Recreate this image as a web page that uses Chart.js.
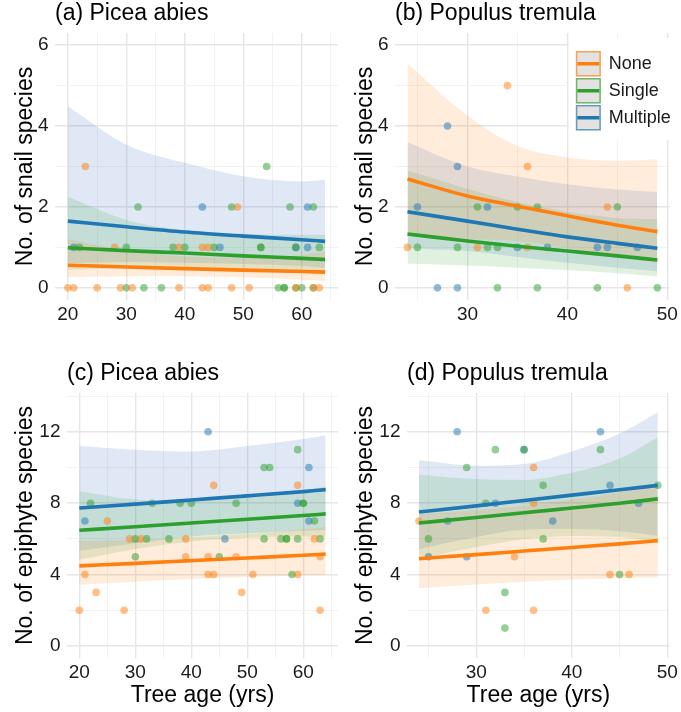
<!DOCTYPE html>
<html><head><meta charset="utf-8">
<script src="https://cdn.jsdelivr.net/npm/chart.js@4.4.1/dist/chart.umd.min.js"></script>
<style>
html,body{margin:0;padding:0;background:#fff;width:681px;height:712px;overflow:hidden;}
canvas{position:absolute;}
</style></head><body>
<canvas id="ca" width="342" height="330" style="left:0;top:0"></canvas>
<canvas id="cb" width="339" height="330" style="left:342px;top:0"></canvas>
<canvas id="cc" width="342" height="352" style="left:0;top:360px"></canvas>
<canvas id="cd" width="339" height="352" style="left:342px;top:360px"></canvas>
<script>
// ---------- tick / grid values ----------
const xMajorPicea = [20,30,40,50,60];
const xMinorPicea = [25,35,45,55,65];
const xMajorPopulus = [30,40,50];
const xMinorPopulus = [25,35,45];
const yMajorSnail = [0,2,4,6];
const yMinorSnail = [1,3,5];
const yMajorEpi = [0,4,8,12];
const yMinorEpi = [2,6,10,14];
const GROUPS = ['None','Single','Multiple'];

// ---------- panel (a) Picea abies, snails ----------
const aNoneAge = [20,21,25,29,31,39,43,44,48,51,59,62,63,28,39,43,44,49,23];
const aNoneCount = [0,0,0,0,0,0,0,0,0,0,0,0,0,1,1,1,1,2,3];
const aSingleAge = [30,33,36,56,57,57,59,60,62,22,30,38,40,45,53,53,59,63,32,48,58,62,54];
const aSingleCount = [0,0,0,0,0,0,0,0,0,1,1,1,1,1,1,1,1,1,2,2,2,2,3];
const aMultipleAge = [21,46,59,61,43,61];
const aMultipleCount = [1,1,1,1,2,2];
const aFitAge = [20,30,40,50,60,64];
const aNoneMean = [0.56,0.516,0.475,0.438,0.403,0.39];
const aNoneLo = [0.26,0.29,0.29,0.26,0.20,0.17];
const aNoneHi = [1.21,0.92,0.78,0.74,0.81,0.89];
const aSingleMean = [0.99,0.92,0.86,0.79,0.73,0.70];
const aSingleLo = [0.44,0.50,0.52,0.47,0.41,0.37];
const aSingleHi = [2.25,1.68,1.43,1.34,1.31,1.31];
const aMultipleMean = [1.65,1.51,1.38,1.28,1.19,1.15];
const aMultipleLo = [0.61,0.64,0.62,0.59,0.54,0.50];
const aMultipleHi = [4.49,3.54,3.09,2.76,2.63,2.67];

// ---------- panel (b) Populus tremula, snails ----------
const bNoneAge = [46,24,31,36,44,36,34];
const bNoneCount = [0,1,1,1,2,3,5];
const bSingleAge = [33,37,43,49,25,29,32,33,31,35,37,45];
const bSingleCount = [0,0,0,0,1,1,1,1,2,2,2,2];
const bMultipleAge = [27,29,35,38,43,44,47,25,32,29,28];
const bMultipleCount = [0,0,1,1,1,1,1,2,2,3,4];
const bFitAge = [24,30,35,40,45,49];
const bNoneMean = [2.69,2.27,2.02,1.78,1.55,1.39];
const bNoneLo = [1.31,1.21,1.16,0.98,0.77,0.61];
const bNoneHi = [5.54,4.26,3.51,3.22,3.14,3.18];
const bSingleMean = [1.33,1.16,1.03,0.91,0.79,0.69];
const bSingleLo = [0.60,0.55,0.50,0.44,0.36,0.28];
const bSingleHi = [2.90,2.45,2.12,1.88,1.73,1.70];
const bMultipleMean = [1.88,1.65,1.45,1.26,1.10,0.98];
const bMultipleLo = [0.98,0.91,0.76,0.62,0.50,0.41];
const bMultipleHi = [3.60,3.00,2.75,2.56,2.43,2.37];

// ---------- panel (c) Picea abies, epiphytes ----------
const cNoneAge = [44,59,25,29,31,39,62,39,43,48,63,21,43,44,51,59,23,49,20,28,63];
const cNoneCount = [9,9,7,6,6,6,6,5,5,5,5,4,4,4,4,4,3,3,2,2,2];
const cSingleAge = [59,53,54,22,33,38,40,48,60,60,62,30,32,36,53,56,57,57,59,63,30,45,58];
const cSingleCount = [11,10,10,8,8,8,8,8,8,8,7,6,6,6,6,6,6,6,6,6,5,5,4];
const cMultipleAge = [43,61,59,21,61,46];
const cMultipleCount = [12,10,8,7,7,6];
const cFitAge = [20,30,40,50,60,64];
const cNoneMean = [4.49,4.63,4.78,4.93,5.08,5.15];
const cNoneLo = [3.43,3.60,3.75,3.87,3.95,3.97];
const cNoneHi = [5.88,5.95,6.09,6.28,6.53,6.68];
const cSingleMean = [6.48,6.68,6.89,7.10,7.31,7.40];
const cSingleLo = [4.84,5.44,5.86,6.07,6.14,6.12];
const cSingleHi = [8.67,8.20,8.10,8.30,8.70,8.95];
const cMultipleMean = [7.73,7.95,8.18,8.41,8.65,8.76];
const cMultipleLo = [5.33,5.75,6.14,6.32,6.45,6.50];
const cMultipleHi = [11.2,11.0,10.9,11.2,11.6,11.8];

// ---------- panel (d) Populus tremula, epiphytes ----------
const dNoneAge = [36,36,24,34,44,46,31,36];
const dNoneCount = [10,8,7,5,4,4,2,2];
const dSingleAge = [32,35,43,29,37,49,31,25,37,45,33,33];
const dSingleCount = [11,11,11,10,9,9,8,6,6,4,3,1];
const dMultipleAge = [28,43,35,44,32,47,27,38,25,29];
const dMultipleCount = [12,12,11,9,8,8,7,7,5,5];
const dFitAge = [24,30,35,40,45,49];
const dNoneMean = [4.89,5.12,5.32,5.52,5.72,5.90];
const dNoneLo = [3.24,3.45,3.60,3.72,3.80,3.84];
const dNoneHi = [7.38,7.60,7.86,8.19,8.61,9.06];
const dSingleMean = [6.89,7.20,7.46,7.73,8.00,8.24];
const dSingleLo = [4.89,5.54,5.98,6.16,6.10,5.80];
const dSingleHi = [9.6,9.35,9.3,9.7,10.5,11.7];
const dMultipleMean = [7.51,7.85,8.15,8.45,8.75,9.00];
const dMultipleLo = [5.42,6.10,6.51,6.55,6.43,6.18];
const dMultipleHi = [10.4,10.1,10.2,10.9,11.9,13.1];

// ---------- styling ----------
const FONT = '"Liberation Sans", Arial, Helvetica, sans-serif';
const COL = {None:[255,127,14], Single:[44,160,44], Multiple:[31,119,180]};
const RIB = {None:[255,127,14], Single:[44,160,44], Multiple:[50,100,190]};
const rgba = (c,a) => `rgba(${c[0]},${c[1]},${c[2]},${a})`;
const pts = (xs,ys) => xs.map((x,i)=>({x:x, y:ys[i]}));

const titlePlugin = {
  id:'ptitle',
  afterDraw(chart, args, opts){
    const {ctx, chartArea} = chart;
    ctx.save();
    ctx.font = '23px ' + FONT;
    ctx.fillStyle = '#000';
    ctx.textAlign = 'left';
    ctx.textBaseline = 'alphabetic';
    ctx.fillText(opts.text, chartArea.left, chartArea.top - 13.5);
    ctx.restore();
  }
};
const legendPlugin = {
  id:'plegend',
  afterDatasetsDraw(chart, args, opts){
    if (!opts.show) return;
    const ctx = chart.ctx;
    const kx = chart.chartArea.right - 94;
    ctx.save();
    ctx.fillStyle = '#fff';
    ctx.fillRect(kx - 7, 38, 120, 102);
    GROUPS.forEach((g,i)=>{
      const y = 51 + i*27;
      ctx.fillStyle = '#e4e2e0';
      ctx.fillRect(kx, y, 25, 25.5);
      ctx.strokeStyle = rgba(COL[g],0.65);
      ctx.lineWidth = 1.5;
      ctx.strokeRect(kx+0.75, y+0.75, 23.5, 24);
      ctx.strokeStyle = rgba(COL[g],1);
      ctx.lineWidth = 3.5;
      ctx.beginPath(); ctx.moveTo(kx+1.5, y+12.75); ctx.lineTo(kx+23.5, y+12.75); ctx.stroke();
      ctx.fillStyle = '#1a1a1a';
      ctx.font = '18px ' + FONT;
      ctx.textAlign = 'left';
      ctx.textBaseline = 'middle';
      ctx.fillText(g, kx + 33, y + 13);
    });
    ctx.restore();
  }
};

function buildDatasets(p){
  const ds = [];
  GROUPS.forEach(g=>{
    ds.push({label:g+' fit', data:pts(p.fitAge, p[g].mean), borderColor:rgba(COL[g],1), borderWidth:3.6,
      pointRadius:0, fill:false, cubicInterpolationMode:'monotone', order:0});
  });
  GROUPS.forEach(g=>{
    ds.push({label:g, data:pts(p[g].age, p[g].count), showLine:false, pointRadius:3.8, pointBorderWidth:0,
      pointBackgroundColor:rgba(COL[g],0.5), borderColor:'transparent', fill:false, order:1});
  });
  GROUPS.forEach(g=>{
    ds.push({label:g+' lo', data:pts(p.fitAge, p[g].lo), borderWidth:0, borderColor:'transparent', pointRadius:0,
      fill:false, cubicInterpolationMode:'monotone', order:2});
    ds.push({label:g+' hi', data:pts(p.fitAge, p[g].hi), borderWidth:0, borderColor:'transparent', pointRadius:0,
      fill:'-1', backgroundColor:rgba(RIB[g],0.15), cubicInterpolationMode:'monotone', order:2});
  });
  return ds;
}

function axis(min, max, major, minor, fitFn, title, titlePad, tickPad){
  const all = major.concat(minor);
  return {
    type:'linear', min:min, max:max,
    afterBuildTicks: s => { s.ticks = all.slice().sort((a,b)=>a-b).map(v=>({value:v})); },
    afterFit: fitFn,
    border:{display:false},
    grid:{drawTicks:false,
      color: c => major.includes(c.tick && c.tick.value) ? '#e6e6e6' : '#f2f2f2',
      lineWidth: c => major.includes(c.tick && c.tick.value) ? 1.4 : 1},
    ticks:{autoSkip:false, maxRotation:0, padding:tickPad, color:'#1a1a1a', font:{family:FONT, size:19},
      callback: v => major.includes(v) ? String(v) : ''},
    title: title ? {display:true, text:title, color:'#000', font:{family:FONT, size:23, lineHeight:1}, padding:titlePad} : {display:false}
  };
}

function makePanel(id, p){
  new Chart(document.getElementById(id), {
    type:'line',
    data:{datasets:buildDatasets(p)},
    plugins:[titlePlugin, legendPlugin],
    options:{
      responsive:false, animation:false, events:[], devicePixelRatio:1,
      layout:{padding:{top:33, right:p.padRight, left:0, bottom:0}},
      plugins:{legend:{display:false}, tooltip:{enabled:false}, ptitle:{text:p.title}, plegend:{show:!!p.legend}},
      scales:{
        x: axis(p.xmin, p.xmax, p.xMajor, p.xMinor, s=>{s.height=p.xHeight;}, p.xtitle, {top:0,bottom:5}, 3),
        y: axis(p.ymin, p.ymax, p.yMajor, p.yMinor, s=>{s.width=p.yWidth;}, p.ytitle, {top:p.yTitlePad,bottom:0}, 6.5)
      }
    }
  });
}

makePanel('ca', {title:'(a) Picea abies', ytitle:'No. of snail species', xtitle:null,
  xmin:17.8, xmax:66.2, ymin:-0.3, ymax:6.3, xMajor:xMajorPicea, xMinor:xMinorPicea, yMajor:yMajorSnail, yMinor:yMinorSnail,
  yWidth:55, yTitlePad:14.5, xHeight:30, padRight:3, fitAge:aFitAge,
  None:{age:aNoneAge, count:aNoneCount, mean:aNoneMean, lo:aNoneLo, hi:aNoneHi},
  Single:{age:aSingleAge, count:aSingleCount, mean:aSingleMean, lo:aSingleLo, hi:aSingleHi},
  Multiple:{age:aMultipleAge, count:aMultipleCount, mean:aMultipleMean, lo:aMultipleLo, hi:aMultipleHi}});

makePanel('cb', {title:'(b) Populus tremula', ytitle:'No. of snail species', xtitle:null, legend:true,
  xmin:22.75, xmax:50.25, ymin:-0.3, ymax:6.3, xMajor:xMajorPopulus, xMinor:xMinorPopulus, yMajor:yMajorSnail, yMinor:yMinorSnail,
  yWidth:53, yTitlePad:12.5, xHeight:30, padRight:10, fitAge:bFitAge,
  None:{age:bNoneAge, count:bNoneCount, mean:bNoneMean, lo:bNoneLo, hi:bNoneHi},
  Single:{age:bSingleAge, count:bSingleCount, mean:bSingleMean, lo:bSingleLo, hi:bSingleHi},
  Multiple:{age:bMultipleAge, count:bMultipleCount, mean:bMultipleMean, lo:bMultipleLo, hi:bMultipleHi}});

makePanel('cc', {title:'(c) Picea abies', ytitle:'No. of epiphyte species', xtitle:'Tree age (yrs)',
  xmin:17.8, xmax:66.2, ymin:-0.675, ymax:14.175, xMajor:xMajorPicea, xMinor:xMinorPicea, yMajor:yMajorEpi, yMinor:yMinorEpi,
  yWidth:67, yTitlePad:14.5, xHeight:54, padRight:1, fitAge:cFitAge,
  None:{age:cNoneAge, count:cNoneCount, mean:cNoneMean, lo:cNoneLo, hi:cNoneHi},
  Single:{age:cSingleAge, count:cSingleCount, mean:cSingleMean, lo:cSingleLo, hi:cSingleHi},
  Multiple:{age:cMultipleAge, count:cMultipleCount, mean:cMultipleMean, lo:cMultipleLo, hi:cMultipleHi}});

makePanel('cd', {title:'(d) Populus tremula', ytitle:'No. of epiphyte species', xtitle:'Tree age (yrs)',
  xmin:22.75, xmax:50.25, ymin:-0.675, ymax:14.175, xMajor:xMajorPopulus, xMinor:xMinorPopulus, yMajor:yMajorEpi, yMinor:yMinorEpi,
  yWidth:65, yTitlePad:12.5, xHeight:54, padRight:10, fitAge:dFitAge,
  None:{age:dNoneAge, count:dNoneCount, mean:dNoneMean, lo:dNoneLo, hi:dNoneHi},
  Single:{age:dSingleAge, count:dSingleCount, mean:dSingleMean, lo:dSingleLo, hi:dSingleHi},
  Multiple:{age:dMultipleAge, count:dMultipleCount, mean:dMultipleMean, lo:dMultipleLo, hi:dMultipleHi}});
</script>
</body></html>
